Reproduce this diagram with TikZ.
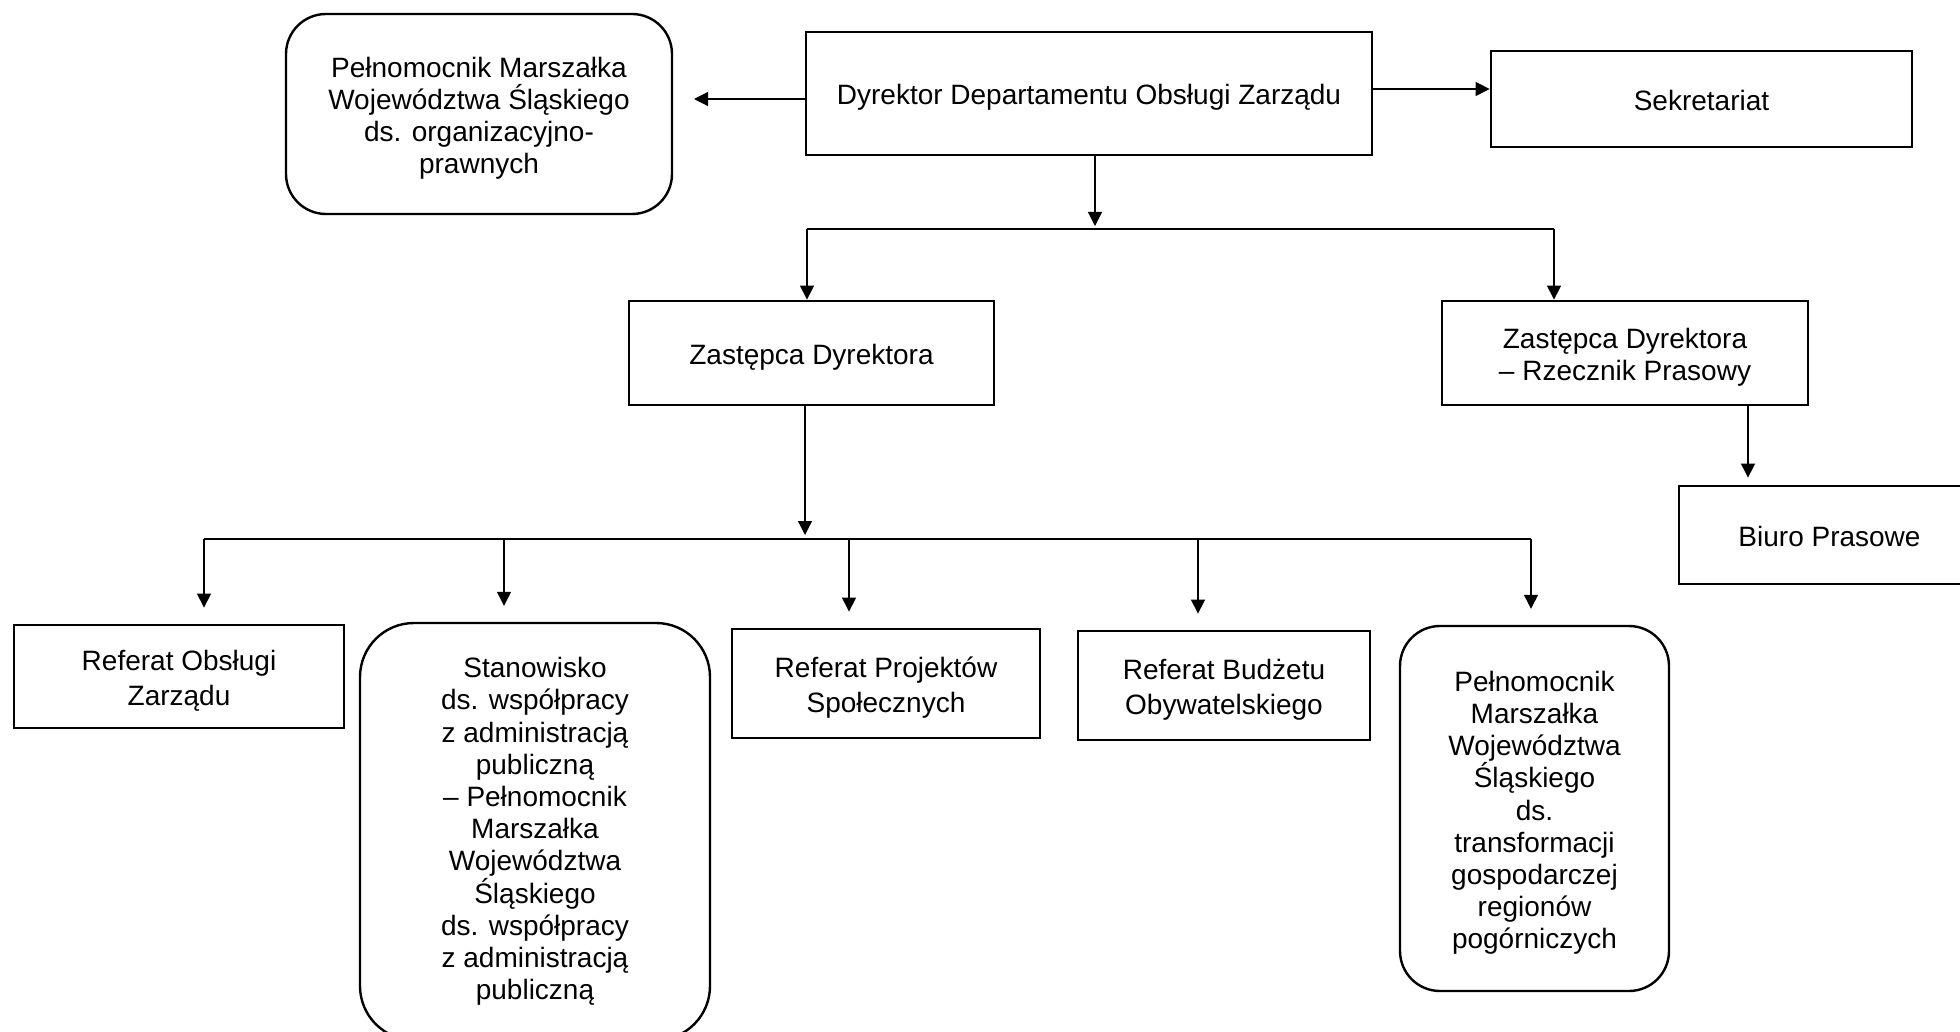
\documentclass[tikz,border=0pt]{standalone}
\usepackage{fontspec}
\setmainfont{Liberation Sans}
\usetikzlibrary{positioning, arrows.meta}
\newcommand{\topstrut}{\rule{0pt}{14.5pt}}
\newcommand{\botstrut}{\rule[-3pt]{0pt}{3pt}}

\begin{document}
\begin{tikzpicture}[x=0.5pt, y=-0.5pt, >={Triangle[length=7pt, width=7pt]},
  box/.style = {draw, line width=1.4pt, rectangle, align=center, inner sep=0pt, font=\fontsize{14}{16.1}\selectfont,
    execute at begin node=\topstrut, execute at end node=\botstrut},
  roundbox/.style = {box, line width=1.2pt, rounded corners=20pt},
  widebox/.style = {box, font=\fontsize{14}{17.5}\selectfont},
  line/.style = {line width=0.6pt}]
\useasboundingbox (0,0) rectangle (1960,1032);
% top row
\node[box, minimum width=283pt, minimum height=61.5pt] (dyr) at (1089,93.5) {Dyrektor Departamentu Obsługi Zarządu};
\node[roundbox, minimum width=193pt, minimum height=100pt] (pelnTop) at (479,114) {\topstrut Pełnomocnik Marszałka\\Województwa Śląskiego\\ds. organizacyjno-\\prawnych};
\node[box, minimum width=210.5pt, minimum height=48pt] (sekr) at (1701.5,99) {Sekretariat};
% deputies
\node[box, minimum width=182.5pt, minimum height=52pt] (zast) at (811.5,353) {Zastępca Dyrektora};
\node[box, minimum width=183pt, minimum height=52pt] (rzecz) at (1625,353) {\topstrut Zastępca Dyrektora\\– Rzecznik Prasowy};
\node[box, minimum width=150.5pt, minimum height=49pt] (biuro) at (1829.5,535) {Biuro Prasowe};
% bottom row
\node[widebox, minimum width=165pt, minimum height=51.5pt] (refObs) at (179,676.5) {\topstrut Referat Obsługi\\Zarządu};
\node[roundbox, rounded corners=27pt, minimum width=175pt, minimum height=208.5pt] (stan) at (535,831.5) {Stanowisko\\ds. współpracy\\z administracją\\publiczną\\– Pełnomocnik\\Marszałka\\Województwa\\Śląskiego\\ds. współpracy\\z administracją\\publiczną};
\node[widebox, minimum width=154pt, minimum height=54.5pt] (refProj) at (886,683.5) {\topstrut Referat Projektów\\Społecznych};
\node[widebox, minimum width=146pt, minimum height=54.5pt] (refBud) at (1224,685.5) {\topstrut Referat Budżetu\\Obywatelskiego};
\node[roundbox, minimum width=134.5pt, minimum height=182.5pt] (pelnTr) at (1534.5,808.5) {\topstrut Pełnomocnik\\Marszałka\\Województwa\\Śląskiego\\ds.\\transformacji\\gospodarczej\\regionów\\pogórniczych};

% connectors of the director
\coordinate (pTip) at (694,99);
\draw[line, ->] (dyr.west |- pTip) -- (pTip);
\draw[line, ->] (dyr.east |- 0,89) -- (sekr.west |- 0,89);
\coordinate (hubA) at (1095,226);
\coordinate (barAl) at (807,229);
\coordinate (barAr) at (1554,229);
\draw[line, ->] (dyr.south -| hubA) -- (hubA);
\draw[line] (barAl) -- (barAr);
\draw[line, ->] (barAl) -- (barAl |- zast.north);
\draw[line, ->] (barAr) -- (barAr |- rzecz.north);
\draw[line, ->, shorten >=3.5pt] (rzecz.south -| 1748,0) -- (biuro.north -| 1748,0);

% connectors of the deputy
\coordinate (hubB) at (805,535);
\coordinate (barBl) at (204,539);
\coordinate (barBr) at (1531,539);
\draw[line, ->] (zast.south -| hubB) -- (hubB);
\draw[line] (barBl) -- (barBr);
\foreach \n/\x in {refObs/204, stan/504, refProj/849, refBud/1198, pelnTr/1531}
  \draw[line, ->, shorten >=8pt] (\x,539) -- (\x,0 |- \n.north);
\end{tikzpicture}
\end{document}
